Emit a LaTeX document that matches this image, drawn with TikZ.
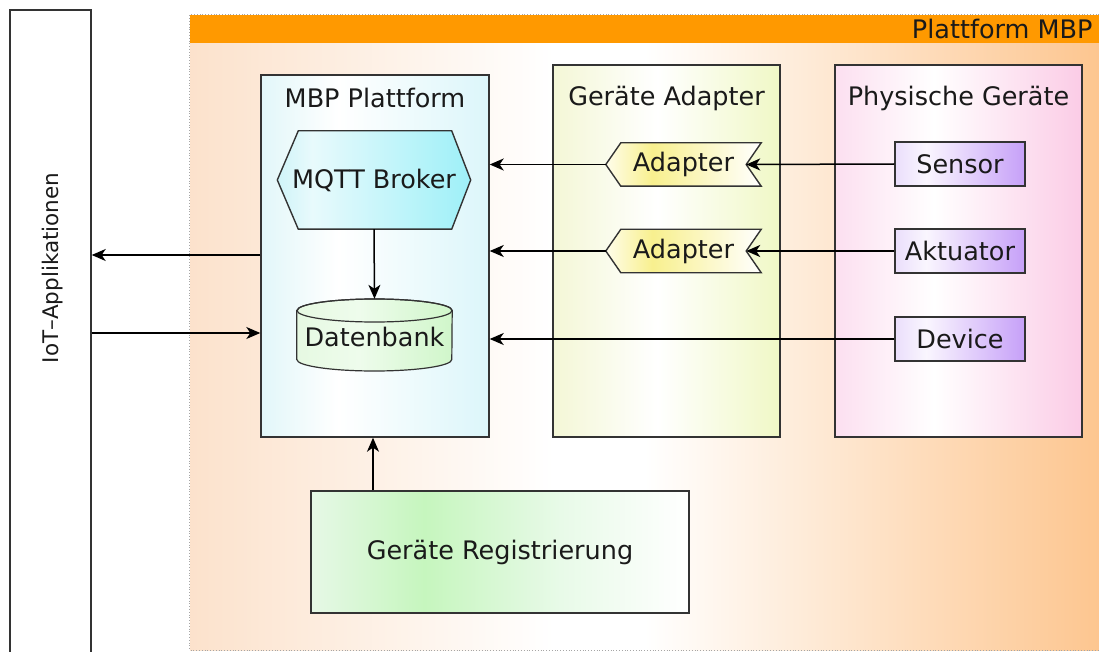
\documentclass[tikz,border=0pt]{standalone}
\usepackage{fontspec}
\setmainfont{DejaVu Sans}
\usetikzlibrary{arrows.meta,calc}

% colours
\definecolor{hdrorange}{HTML}{FF9900}
\definecolor{platL}{HTML}{FCE2CC}
\definecolor{platR}{HTML}{FDC690}
\definecolor{mbpL}{HTML}{E2F7F9}
\definecolor{mbpR}{HTML}{DCF6FA}
\definecolor{hexL}{HTML}{CFF4F8}
\definecolor{hexM}{HTML}{E8FAFC}
\definecolor{hexR}{HTML}{9EF0F8}
\definecolor{gaL}{HTML}{F4F7D6}
\definecolor{gaR}{HTML}{F0F8C6}
\definecolor{phL}{HTML}{FCDFF0}
\definecolor{phR}{HTML}{FBCCE6}
\definecolor{adL}{HTML}{FFFDEA}
\definecolor{adM}{HTML}{F8F08E}
\definecolor{devL}{HTML}{EADEFC}
\definecolor{devM}{HTML}{FAF6FE}
\definecolor{devR}{HTML}{C6A0F8}
\definecolor{regL}{HTML}{E6F8E6}
\definecolor{regM}{HTML}{C6F6BE}
\definecolor{regN}{HTML}{E8FAE8}
\definecolor{dbL}{HTML}{E6F9E2}
\definecolor{dbM}{HTML}{EEFCEC}
\definecolor{dbR}{HTML}{D0F6CA}
\definecolor{boxline}{HTML}{333333}
\definecolor{ink}{HTML}{1A1A1A}

% horizontal shadings (25bp..75bp span the filled shape)
\pgfdeclarehorizontalshading{platshade}{100bp}{color(0bp)=(platL); color(25bp)=(platL); color(45bp)=(white); color(50bp)=(white); color(75bp)=(platR); color(100bp)=(platR)}
\pgfdeclarehorizontalshading{mbpshade}{100bp}{color(0bp)=(mbpL); color(25bp)=(mbpL); color(42bp)=(white); color(75bp)=(mbpR); color(100bp)=(mbpR)}
\pgfdeclarehorizontalshading{hexshade}{100bp}{color(0bp)=(hexL); color(25bp)=(hexL); color(34bp)=(hexM); color(75bp)=(hexR); color(100bp)=(hexR)}
\pgfdeclarehorizontalshading{gashade}{100bp}{color(0bp)=(gaL); color(25bp)=(gaL); color(48bp)=(white); color(75bp)=(gaR); color(100bp)=(gaR)}
\pgfdeclarehorizontalshading{phshade}{100bp}{color(0bp)=(phL); color(25bp)=(phL); color(45bp)=(white); color(75bp)=(phR); color(100bp)=(phR)}
\pgfdeclarehorizontalshading{adshade}{100bp}{color(0bp)=(adL); color(25bp)=(adL); color(40bp)=(adM); color(75bp)=(white); color(100bp)=(white)}
\pgfdeclarehorizontalshading{devshade}{100bp}{color(0bp)=(devL); color(25bp)=(devL); color(37bp)=(devM); color(75bp)=(devR); color(100bp)=(devR)}
\pgfdeclarehorizontalshading{regshade}{100bp}{color(0bp)=(regL); color(25bp)=(regL); color(40bp)=(regM); color(58bp)=(regN); color(75bp)=(white); color(100bp)=(white)}
\pgfdeclarehorizontalshading{dbshade}{100bp}{color(0bp)=(dbL); color(25bp)=(dbL); color(45bp)=(dbM); color(75bp)=(dbR); color(100bp)=(dbR)}

\pgfdeclarelayer{back}
\pgfdeclarelayer{mid}
\pgfsetlayers{back,mid,main}

\tikzset{
  big/.style={font=\fontsize{25.5}{30}\selectfont, text=ink},
  panel/.style={draw=boxline, line width=1.4pt, inner sep=0pt},
  devbox/.style={panel, shading=devshade, minimum width=130pt, minimum height=44pt, big},
  conn/.style={draw=black, line width=1.5pt, -{Stealth[length=14pt,width=12pt,inset=4pt]}},
  hexbody/.style={draw=boxline, line width=1.4pt, shading=hexshade},
  adbody/.style={draw=boxline, line width=1.4pt, shading=adshade},
  dbbody/.style={draw=boxline, line width=1.2pt, shading=dbshade},
}

\begin{document}
\begin{tikzpicture}[x=1pt, y=-1pt]
\useasboundingbox (0,0) rectangle (1099,652);

\begin{pgfonlayer}{back}
\fill[white] (0,0) rectangle (1099,652);
% platform area with orange header
\node[inner sep=0pt, minimum width=909pt, minimum height=607pt, shading=platshade] (plat) at (644.5,346.5) {};
\node[inner sep=0pt, minimum width=909pt, minimum height=28pt, fill=hdrorange] (hdr) at (644.5,29) {};
\draw[gray!70, dotted, line width=0.8pt] (hdr.north east) -- (hdr.north west) -- (plat.south west) -- (plat.south east);
% IoT applications column
\node[panel, minimum width=81pt, minimum height=690pt] (iot) at (50.5,355) {};
% the three columns
\node[panel, shading=mbpshade, minimum width=228pt, minimum height=362pt] (mbp) at (375,256) {};
\node[panel, shading=gashade, minimum width=227pt, minimum height=372pt] (ga) at (666.5,251) {};
\node[panel, shading=phshade, minimum width=247pt, minimum height=372pt] (ph) at (958.5,251) {};
\end{pgfonlayer}

\node[big, anchor=east] (hdrtitle) at (1096,29) {Plattform MBP};
\node[big, rotate=90, font=\fontsize{21.5}{26}\selectfont] (iotlabel) at (53,268) {IoT–Applikationen};
\node[big] (mbptitle) at (375,98) {MBP Plattform};
\node[big] (gatitle) at (666.5,98) {Geräte Adapter};
\node[big] (phtitle) at (958.5,98) {Physische Geräte};

% MQTT broker hexagon
\node[big, inner sep=0pt, minimum width=193pt, minimum height=98pt] (mqtt) at (374,180) {MQTT Broker};
\begin{pgfonlayer}{mid}
\path[hexbody] (mqtt.west) -- ($(mqtt.north west)+(21,0)$) -- ($(mqtt.north east)+(-19,0)$)
  -- (mqtt.east) -- ($(mqtt.south east)+(-19,0)$) -- ($(mqtt.south west)+(21,0)$) -- cycle;
\end{pgfonlayer}

% database cylinder
\node[big, inner sep=0pt, minimum width=155pt, minimum height=72pt] (db) at (374.5,335) {};
\node[big] (dbtext) at (374.5,337) {Datenbank};
\begin{pgfonlayer}{mid}
\path[dbbody] ($(db.west)+(0,-24.5)$) -- ($(db.west)+(0,24.5)$)
  arc[start angle=180, end angle=0, x radius=77.5, y radius=11.5]
  -- ($(db.east)+(0,-24.5)$)
  arc[start angle=0, end angle=-180, x radius=77.5, y radius=11.5] -- cycle;
\draw[boxline, line width=1.2pt] ($(db.center)+(0,-24.5)$) ellipse[x radius=77.5, y radius=11.5];
\end{pgfonlayer}

% adapters
\node[big, inner sep=0pt, minimum width=155pt, minimum height=43pt] (ad1) at (683.5,164.5) {Adapter};
\node[big, inner sep=0pt, minimum width=155pt, minimum height=43pt] (ad2) at (683.5,251) {Adapter};
\begin{pgfonlayer}{mid}
\foreach \a in {ad1,ad2}{
  \path[adbody] (\a.west) -- ($(\a.north west)+(15,0)$) -- (\a.north east)
    -- ($(\a.east)+(-15,0)$) -- (\a.south east) -- ($(\a.south west)+(15,0)$) -- cycle;
}
\end{pgfonlayer}
\coordinate (ad1in) at ($(ad1.east)+(-15,0)$);
\coordinate (ad2in) at ($(ad2.east)+(-15,0)$);

% physical devices
\node[devbox] (sensor) at (960,164) {Sensor};
\node[devbox] (akt) at (960,251) {Aktuator};
\node[devbox] (dev) at (960,339) {Device};

% registration
\node[panel, shading=regshade, minimum width=378pt, minimum height=122pt, big] (reg) at (500,552) {Geräte Registrierung};

% connectors
\draw[conn] (sensor.west) -- (ad1in);
\draw[conn] (akt.west) -- (ad2in);
\draw[conn] (ad1.west) -- (ad1.west -| mbp.east);
\draw[conn] (ad2.west) -- (ad2.west -| mbp.east);
\draw[conn] (dev.west) -- (dev.west -| mbp.east);
\draw[conn] (mqtt.south) -- (db.north);
\coordinate (regx) at (373,0);
\draw[conn] (reg.north -| regx) -- (mbp.south -| regx);
\coordinate (yout) at (0,255);
\coordinate (yback) at (0,333);
\draw[conn] (mbp.west |- yout) -- (iot.east |- yout);
\draw[conn] (iot.east |- yback) -- (mbp.west |- yback);
\end{tikzpicture}
\end{document}
